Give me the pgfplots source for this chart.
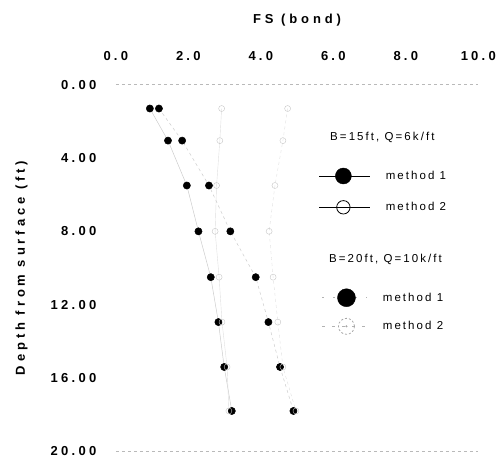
\documentclass[border=0pt]{standalone}
\usepackage{fontspec}
\setmainfont{Liberation Sans}
\newfontfamily\tickfont{Liberation Sans}[LetterSpace=25]
\newfontfamily\labfont{Liberation Sans}[LetterSpace=30]
\newfontfamily\legfont{Liberation Sans}[LetterSpace=18]
\usepackage{pgfplots}
\pgfplotsset{compat=1.18}

% --- data: FS (bond) vs depth ---
\pgfplotstableread{
fs    d
0.94  1.3
1.44  3.05
1.96  5.5
2.28  8.0
2.62  10.5
2.83  12.95
2.99  15.4
3.20  17.8
}\bAmA
\pgfplotstableread{
fs    d
2.92  1.3
2.87  3.05
2.78  5.5
2.74  8.0
2.85  10.5
2.93  12.95
3.07  15.4
3.12  17.8
}\bAmB
\pgfplotstableread{
fs    d
1.19  1.3
1.83  3.05
2.57  5.5
3.16  8.0
3.86  10.5
4.21  12.95
4.53  15.4
4.90  17.8
}\bBmA
\pgfplotstableread{
fs    d
4.74  1.3
4.61  3.05
4.39  5.5
4.23  8.0
4.34  10.5
4.47  12.95
4.61  15.4
4.97  17.8
}\bBmB

\pgfplotsset{
  frame/.style={
    scale only axis, width=362.5pt, height=366.6pt,
    xmin=0, xmax=10, ymin=0, ymax=20, y dir=reverse,
  },
  leg/.style={
    legend style={draw=none, fill=none, inner sep=0pt, outer sep=0pt,
      row sep=16pt, column sep=13pt,
      font=\legfont\fontsize{11.5}{13}\selectfont},
    legend cell align=left,
  },
}

\begin{document}
\begin{tikzpicture}
% page = reference frame, axis box at (0,0)
\useasboundingbox (-115.8pt,-6pt) rectangle (383.2pt,451.3pt);
\begin{axis}[
    name=main, frame, leg,
    clip=false,
    axis line style={draw=none},
    major tick length=0pt,
    xtick={0,2,...,10}, xticklabels={0.0,2.0,4.0,6.0,8.0,10.0},
    ytick={0,4,...,20}, yticklabels={0.00,4.00,8.00,12.00,16.00,20.00},
    xticklabel pos=right,
    xticklabel style={font=\tickfont\bfseries\fontsize{13}{15}\selectfont, yshift=21pt},
    yticklabel style={font=\tickfont\bfseries\fontsize{13}{15}\selectfont, xshift=-16pt},
    extra y ticks={0,20}, extra y tick labels={},
    extra y tick style={grid=major, major grid style={gray!55, dashed, line width=0.5pt}},
    xlabel={FS (bond)},
    xlabel style={at={(axis cs:5,-3.53)}, anchor=center,
      font=\labfont\bfseries\fontsize{13}{15}\selectfont},
    ylabel={Depth from surface (ft)},
    ylabel style={at={(axis cs:-2.6,10)}, anchor=center,
      font=\labfont\bfseries\fontsize{13}{15}\selectfont},
    legend style={at={(axis cs:5.605,3.36)}, anchor=north west},
]
% B=15ft, method 1
\addplot[gray!40, line width=0.5pt, mark=*, mark size=3.6pt,
  mark options={solid, fill=black, draw=black}, forget plot] table[x=fs, y=d] {\bAmA};
% B=15ft, method 2
\addplot[gray!25, line width=0.4pt, mark=o, mark size=3pt,
  mark options={solid, draw=gray!45}, forget plot] table[x=fs, y=d] {\bAmB};
% B=20ft, method 1
\addplot[gray!40, dashed, line width=0.5pt, mark=*, mark size=3.6pt,
  mark options={solid, fill=black, draw=black}, forget plot] table[x=fs, y=d] {\bBmA};
% B=20ft, method 2
\addplot[gray!25, dashed, line width=0.4pt, mark=o, mark size=3pt,
  mark options={solid, draw=gray!45}, forget plot] table[x=fs, y=d] {\bBmB};

\addlegendimage{legend image code/.code={
  \node[overlay, anchor=center, inner sep=0pt, yshift=12pt] at (63pt,0pt) {B=15ft, Q=6k/ft};}}
\addlegendentry{}
\addlegendimage{legend image code/.code={
  \draw[black, line width=0.8pt] (0pt,0pt) -- (51pt,0pt);
  \fill[black] (24pt,0pt) circle (8pt);}}
\addlegendentry{method 1}
\addlegendimage{legend image code/.code={
  \draw[black, line width=0.8pt] (0pt,0pt) -- (51pt,0pt);
  \draw[black, line width=0.8pt, fill=white] (24pt,0pt) circle (6.7pt);
  \draw[black, line width=0.8pt] (17pt,0pt) -- (31pt,0pt);}}
\addlegendentry{method 2}
\end{axis}

\begin{axis}[
    frame, leg, hide axis,
    legend style={at={(axis cs:5.69,10.22)}, anchor=north west, row sep=11pt},
]
\addlegendimage{legend image code/.code={
  \node[overlay, anchor=center, inner sep=0pt, yshift=16pt] at (63pt,0pt) {B=20ft, Q=10k/ft};}}
\addlegendentry{}
\addlegendimage{legend image code/.code={
  \draw[gray!60, line width=0.8pt, dash pattern=on 2pt off 9pt] (0pt,0pt) -- (45pt,0pt);
  \fill[black] (24pt,0pt) circle (9pt);}}
\addlegendentry{method 1}
\addlegendimage{legend image code/.code={
  \draw[gray!60, line width=0.8pt, dash pattern=on 3pt off 7pt] (0pt,0pt) -- (45pt,0pt);
  \draw[gray!70, line width=0.8pt, dash pattern=on 2pt off 2pt] (24pt,0pt) circle (8pt);
  \fill[gray!70] (24pt,0pt) circle (0.8pt);}}
\addlegendentry{method 2}
\end{axis}
\end{tikzpicture}
\end{document}
